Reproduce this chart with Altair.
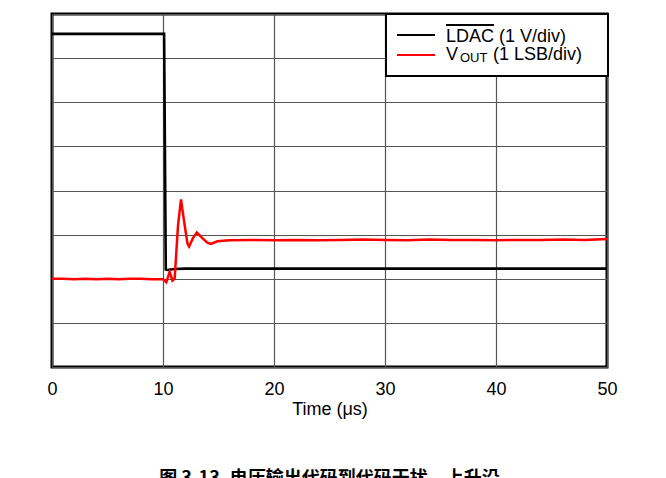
import altair as alt
import pandas as pd

# ---- data ----
ldac_t = [0, 10.1, 10.25, 10.4, 11.0, 12.0, 15.0, 50.0]
ldac_v = [7.55, 7.55, 2.21, 2.20, 2.22, 2.23, 2.23, 2.23]

vout_t = [0, 1, 2, 3, 4, 5, 6, 7, 8, 9, 9.6, 10.0, 10.3, 10.6, 10.85, 11.05, 11.35,
          11.62, 11.9, 12.2, 12.35, 12.7, 13.05, 13.5, 14.0, 14.3, 14.9, 16, 18, 20,
          22, 24, 26, 28, 30, 32, 34, 36, 38, 40, 42, 44, 46, 48, 50]
vout_v = [2.00, 2.00, 1.99, 2.00, 1.99, 2.00, 1.99, 2.00, 2.00, 1.99, 1.99, 1.99, 1.92,
          2.16, 1.96, 2.00, 3.20, 3.80, 3.30, 2.80, 2.73, 2.92, 3.05, 2.93, 2.82, 2.79,
          2.85, 2.87, 2.88, 2.87, 2.88, 2.87, 2.88, 2.89, 2.88, 2.87, 2.89, 2.88, 2.88,
          2.87, 2.88, 2.88, 2.89, 2.88, 2.90]

x_ticks = [0, 10, 20, 30, 40, 50]
y_ticks = [0, 1, 2, 3, 4, 5, 6, 7, 8]

ldac = pd.DataFrame({"t": ldac_t, "v": ldac_v})
vout = pd.DataFrame({"t": vout_t, "v": vout_v})

FONT = "Liberation Sans"
W, H = 555, 353

x_enc = alt.X("t:Q", scale=alt.Scale(domain=[0, 50], nice=False),
              axis=alt.Axis(values=x_ticks, title="Time (μs)", domain=False, ticks=False,
                            grid=True, gridColor="#555555", gridWidth=1.2, gridOpacity=1,
                            labelFont=FONT, labelFontSize=18, labelColor="black",
                            labelFlush=False, labelBound=False, labelOverlap=False,
                            labelPadding=13, titleFont=FONT, titleFontSize=18,
                            titleFontWeight="normal", titleColor="black", titlePadding=2))
y_enc = alt.Y("v:Q", scale=alt.Scale(domain=[0, 8], nice=False),
              axis=alt.Axis(values=y_ticks, title=None, labels=False, domain=False,
                            ticks=False, grid=True, gridColor="#555555", gridWidth=1.2,
                            gridOpacity=1))

black_line = alt.Chart(ldac).mark_line(color="black", strokeWidth=2.6).encode(x=x_enc, y=y_enc)
red_line = alt.Chart(vout).mark_line(color="#ff0000", strokeWidth=2.5).encode(x="t:Q", y="v:Q")

# ---- manual legend ----
leg_box = alt.Chart(pd.DataFrame({"a": [0]})).mark_rect(
    fill="white", stroke="black", strokeWidth=2).encode(
    x=alt.value(334), x2=alt.value(556), y=alt.value(0), y2=alt.value(62))
leg_black = alt.Chart(pd.DataFrame({"a": [0]})).mark_rule(color="black", strokeWidth=2).encode(
    x=alt.value(345), x2=alt.value(383), y=alt.value(21))
leg_red = alt.Chart(pd.DataFrame({"a": [0]})).mark_rule(color="#ff0000", strokeWidth=2).encode(
    x=alt.value(345), x2=alt.value(383), y=alt.value(41))

def label(txt, x, y, size=18):
    return alt.Chart(pd.DataFrame({"a": [0]})).mark_text(
        text=txt, font=FONT, fontSize=size, align="left", baseline="alphabetic",
        color="black").encode(x=alt.value(x), y=alt.value(y))

leg_t1 = label("LDAC (1 V/div)", 394, 28)
leg_over = alt.Chart(pd.DataFrame({"a": [0]})).mark_rule(color="black", strokeWidth=1.8).encode(
    x=alt.value(394), x2=alt.value(442), y=alt.value(11))
leg_v = label("V", 394, 46)
leg_out = label("OUT", 408, 48, size=13)
leg_rest = label("(1 LSB/div)", 441, 46)

caption = alt.Chart(pd.DataFrame({"a": [0]})).mark_text(
    text="图 3-13. 电压输出代码到代码干扰，上升沿", font="Noto Sans CJK SC", fontSize=18,
    fontWeight="bold", align="center", baseline="top", color="black").encode(
    x=alt.value(W / 2), y=alt.value(456))

chart = alt.layer(
    black_line, red_line, leg_box, leg_black, leg_red, leg_t1, leg_over, leg_v, leg_out,
    leg_rest, caption
).properties(
    width=W, height=H,
    autosize=alt.AutoSizeParams(type="none"),
    padding={"left": 44, "top": 6, "right": 50, "bottom": 112},
    background="white",
).configure_view(stroke="black", strokeWidth=3)

chart.save("out.html", embed_options={"renderer": "svg", "actions": False})
